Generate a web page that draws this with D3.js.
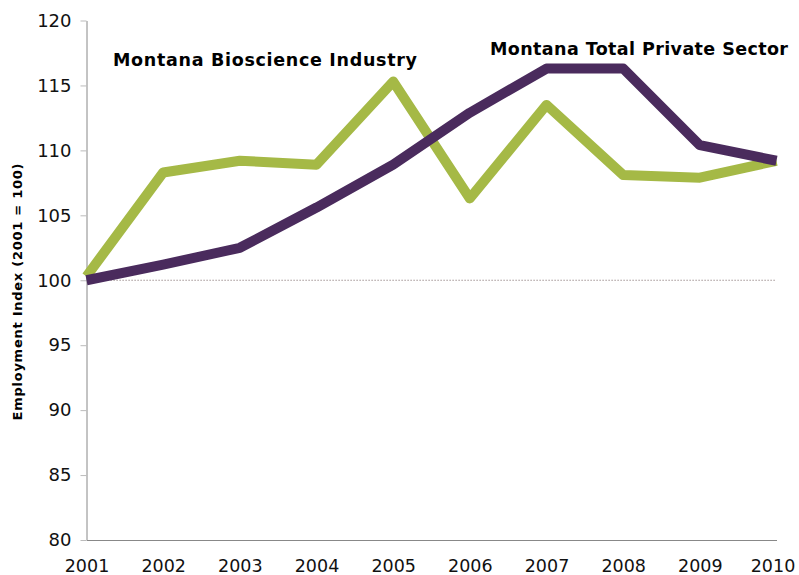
<!DOCTYPE html>
<html>
<head>
<meta charset="utf-8">
<script src="https://cdn.jsdelivr.net/npm/d3@7"></script>
<style>
  html, body { margin: 0; padding: 0; background: #fff; }
  svg { display: block; font-family: "DejaVu Sans", Verdana, sans-serif; }
</style>
</head>
<body>
<svg id="chart" width="799" height="575"></svg>
<script>
// Employment index, 2001 = 100
const years = [2001, 2002, 2003, 2004, 2005, 2006, 2007, 2008, 2009, 2010];
const bioscience = [100.3, 108.3, 109.2, 108.9, 115.3, 106.3, 113.5, 108.1, 107.9, 109.2];
const totalPrivate = [100.0, 101.2, 102.5, 105.6, 108.9, 112.9, 116.3, 116.3, 110.4, 109.2];
const yTicks = [80, 85, 90, 95, 100, 105, 110, 115, 120];
const seriesNames = ["Montana Bioscience Industry", "Montana Total Private Sector"];

const svg = d3.select("#chart");
const margin = { left: 86.5, right: 22.5, top: 20.5, bottom: 35 };
const W = 799, H = 575;

const x = d3.scalePoint().domain(years).range([margin.left, W - margin.right]);
const y = d3.scaleLinear().domain([80, 120]).range([H - margin.bottom, margin.top]);

// Baseline reference at 100
svg.append("line")
  .attr("x1", x(2001)).attr("x2", x(2010))
  .attr("y1", y(100)).attr("y2", y(100))
  .attr("stroke", "#8a7a7a").attr("stroke-width", 1.2)
  .attr("stroke-dasharray", "1.2,1.8");

// Y axis
const yAxis = svg.append("g")
  .attr("transform", `translate(${margin.left},0)`)
  .call(d3.axisLeft(y).tickValues(yTicks).tickSize(6).tickSizeOuter(0).tickPadding(9));
yAxis.select(".domain").attr("stroke", "#888").attr("stroke-width", 1);
yAxis.selectAll(".tick line").attr("stroke", "#bbb").attr("stroke-width", 1);
yAxis.selectAll(".tick text").attr("font-size", 18).attr("fill", "#111")
  .attr("font-family", "DejaVu Sans, Verdana, sans-serif");

// X axis
const xAxis = svg.append("g")
  .attr("transform", `translate(0,${y(80)})`)
  .call(d3.axisBottom(x).tickSize(0).tickPadding(20).tickFormat(d3.format("d")));
xAxis.select(".domain").attr("stroke", "#888").attr("stroke-width", 1);
xAxis.selectAll(".tick text").attr("font-size", 17.5).attr("fill", "#111")
  .attr("font-family", "DejaVu Sans, Verdana, sans-serif")
  .attr("dx", d => d === 2010 ? -4 : 0);

// Y axis title
svg.append("text")
  .attr("transform", `translate(22,${y(99.1)}) rotate(-90)`)
  .attr("text-anchor", "middle")
  .attr("font-size", 13).attr("font-weight", "bold").attr("fill", "#000")
  .attr("textLength", 257).attr("lengthAdjust", "spacing")
  .text("Employment Index (2001 = 100)");

const line = d3.line().x((d, i) => x(years[i])).y(d => y(d));

svg.append("path")
  .datum(bioscience)
  .attr("d", line)
  .attr("fill", "none")
  .attr("stroke", "#a5b946")
  .attr("stroke-width", 10)
  .attr("stroke-linejoin", "round");

svg.append("path")
  .datum(totalPrivate)
  .attr("d", line)
  .attr("fill", "none")
  .attr("stroke", "#4a2b5d")
  .attr("stroke-width", 10)
  .attr("stroke-linejoin", "round");

// Series labels
svg.append("text")
  .attr("x", 113).attr("y", 66)
  .attr("font-size", 17.5).attr("font-weight", "bold").attr("fill", "#000")
  .attr("textLength", 304).attr("lengthAdjust", "spacing")
  .text(seriesNames[0]);

svg.append("text")
  .attr("x", 490).attr("y", 55)
  .attr("font-size", 17.5).attr("font-weight", "bold").attr("fill", "#000")
  .attr("textLength", 298).attr("lengthAdjust", "spacing")
  .text(seriesNames[1]);
</script>
</body>
</html>
